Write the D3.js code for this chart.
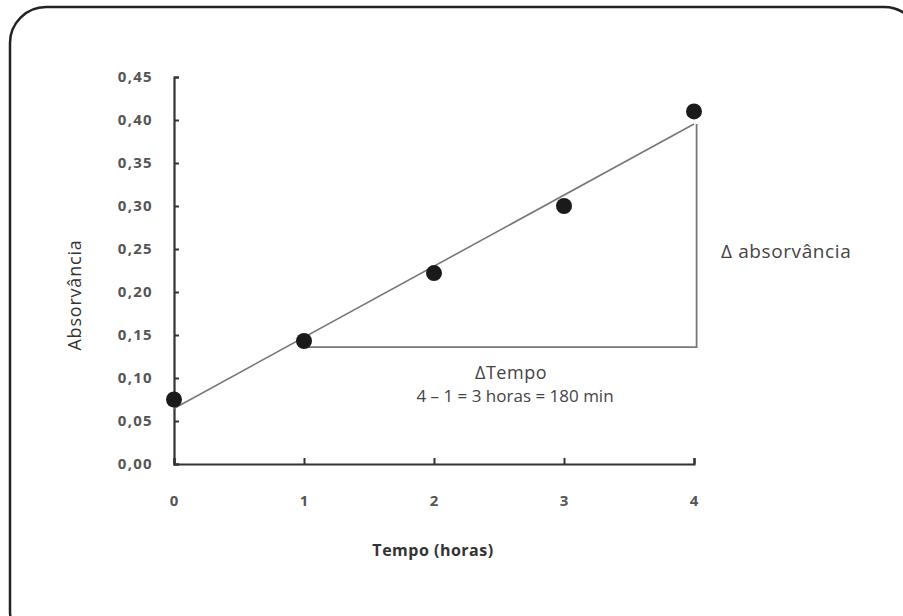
<!DOCTYPE html>
<html>
<head>
<meta charset="utf-8">
<script src="https://cdn.jsdelivr.net/npm/d3@7"></script>
<style>
  body { margin: 0; background: #fff; }
  svg { display: block; font-family: "Open Sans", Lato, sans-serif; }
</style>
</head>
<body>
<svg id="chart" width="903" height="616"></svg>
<script>
// Data
let hours = [0, 1, 2, 3, 4];
let absorbance = [0.075, 0.143, 0.222, 0.300, 0.410];
let yTicks = [0, 0.05, 0.10, 0.15, 0.20, 0.25, 0.30, 0.35, 0.40, 0.45];
let xTicks = [0, 1, 2, 3, 4];
// the delta triangle: horizontal leg from x=1 to x=4, at this absorbance
let deltaBase = 0.136;
let deltaX = [1, 4.02];

let svg = d3.select('#chart');

// frame round the whole figure (runs off the right and bottom edges)
svg.append('rect')
  .attr('x', 10).attr('y', 7)
  .attr('width', 910).attr('height', 640)
  .attr('rx', 36).attr('ry', 36)
  .attr('fill', 'none')
  .attr('stroke', '#222')
  .attr('stroke-width', 2.5);

let x = d3.scaleLinear().domain([0, 4]).range([174, 694]);
let y = d3.scaleLinear().domain([0, 0.45]).range([464, 77]);

let fmt = d => d3.format('.2f')(d).replace('.', ',');

/* axes */
let yAxis = svg.append('g')
  .attr('transform', `translate(${x(0)},0)`)
  .call(d3.axisRight(y).tickValues(yTicks).tickSize(5).tickFormat(''));
let xAxis = svg.append('g')
  .attr('transform', `translate(0,${y(0)})`)
  .call(d3.axisTop(x).tickValues(xTicks).tickSize(6).tickFormat(''));

[yAxis, xAxis].forEach(g => {
  g.select('.domain').attr('stroke', '#333').attr('stroke-width', 2.2);
  g.selectAll('.tick line').attr('stroke', '#333').attr('stroke-width', 2);
});

// tick labels drawn by hand so they sit where the original has them
svg.append('g').selectAll('text')
  .data(yTicks)
  .join('text')
  .attr('x', 153)
  .attr('y', d => y(d))
  .attr('dy', '0.36em')
  .attr('text-anchor', 'end')
  .attr('font-size', 15)
  .attr('font-weight', 'bold')
  .attr('letter-spacing', 1.3)
  .attr('fill', '#555')
  .text(fmt);

svg.append('g').selectAll('text')
  .data(xTicks)
  .join('text')
  .attr('x', d => x(d))
  .attr('y', 506)
  .attr('text-anchor', 'middle')
  .attr('font-size', 15)
  .attr('font-weight', 'bold')
  .attr('fill', '#555')
  .text(d => d);

svg.append('text')
  .attr('x', 433).attr('y', 556)
  .attr('text-anchor', 'middle')
  .attr('font-size', 16)
  .attr('font-weight', 'bold')
  .attr('letter-spacing', 0.5)
  .attr('fill', '#333')
  .text('Tempo (horas)');

svg.append('text')
  .attr('transform', 'translate(81,295) rotate(-90)')
  .attr('text-anchor', 'middle')
  .attr('font-size', 18)
  .attr('letter-spacing', 0.8)
  .attr('fill', '#333')
  .text('Absorvância');

/* least squares line through the points */
let mx = d3.mean(hours), my = d3.mean(absorbance);
let slope = d3.sum(hours, (h, i) => (h - mx) * (absorbance[i] - my)) /
            d3.sum(hours, h => (h - mx) * (h - mx));
let intercept = my - slope * mx;
let fit = h => intercept + slope * h;

svg.append('line')
  .attr('x1', x(0)).attr('y1', y(fit(0)))
  .attr('x2', x(4)).attr('y2', y(fit(4)))
  .attr('stroke', '#777')
  .attr('stroke-width', 1.6);

// delta triangle
svg.append('path')
  .attr('d', d3.line()([
    [x(deltaX[0]), y(deltaBase)],
    [x(deltaX[1]), y(deltaBase)],
    [x(deltaX[1]), y(fit(4))]
  ]))
  .attr('fill', 'none')
  .attr('stroke', '#777')
  .attr('stroke-width', 1.8);

svg.append('g').selectAll('circle')
  .data(hours)
  .join('circle')
  .attr('cx', d => x(d))
  .attr('cy', (d, i) => y(absorbance[i]))
  .attr('r', 8)
  .attr('fill', '#1a1a1a');

/* annotations */
svg.append('text')
  .attr('x', 511).attr('y', 379)
  .attr('text-anchor', 'middle')
  .attr('font-size', 18)
  .attr('letter-spacing', 0.5)
  .attr('fill', '#444')
  .text('ΔTempo');
svg.append('text')
  .attr('x', 515).attr('y', 402)
  .attr('text-anchor', 'middle')
  .attr('font-size', 17)
  .attr('fill', '#444')
  .text('4 – 1 = 3 horas = 180 min');

svg.append('text')
  .attr('x', 721).attr('y', 258)
  .attr('font-size', 19)
  .attr('letter-spacing', 0.6)
  .attr('fill', '#444')
  .text('Δ absorvância');
</script>
</body>
</html>
